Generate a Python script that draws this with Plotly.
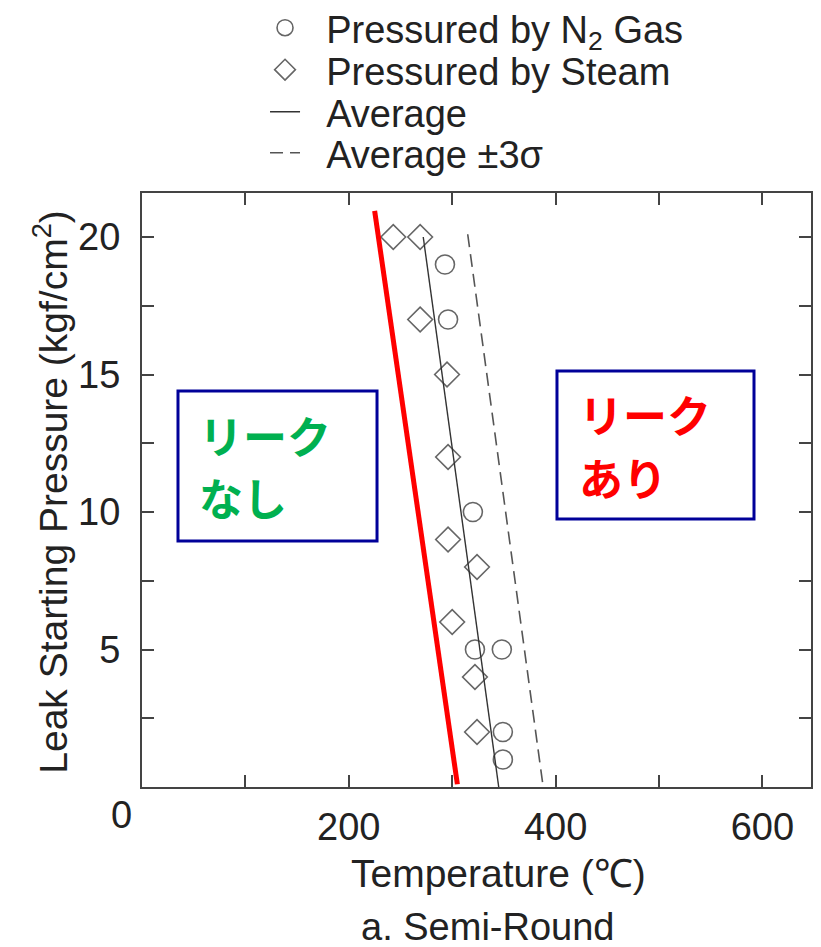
import plotly.graph_objects as go

# ---- data ----
n2_temp = [293, 296, 320, 322, 348, 349, 349]
n2_pres = [19, 17, 10, 5, 5, 2, 1]

steam_temp = [243, 269, 269, 295, 296, 296, 324, 300, 322, 324]
steam_pres = [20, 20, 17, 15, 12, 9, 8, 6, 4, 2]

avg_temp = [272, 345]
avg_pres = [20, 0]

sigma_temp = [315, 388]
sigma_pres = [20.1, 0]

limit_temp = [225, 305]
limit_pres = [20.95, 0.1]

x_tickvals = [0, 100, 200, 300, 400, 500, 600]
x_ticktext = ["", "", "200", "", "400", "", "600"]
y_tickvals = [0, 2.5, 5, 7.5, 10, 12.5, 15, 17.5, 20]
y_ticktext = ["", "", "5", "", "10", "", "15", "", "20"]

FONT = "Liberation Sans, Arial, sans-serif"
JP = "Noto Sans CJK JP"
TXT = "#222222"
GRAY = "#666666"
PAD = "\u00a0\u00a0"

fig = go.Figure()

fig.add_trace(go.Scatter(
    x=n2_temp, y=n2_pres, mode="markers", name=PAD + "Pressured by N<sub>2</sub> Gas",
    marker=dict(symbol="circle-open", size=19, color=GRAY, line=dict(width=1.6, color=GRAY)),
    legend="legend"))
fig.add_trace(go.Scatter(
    x=steam_temp, y=steam_pres, mode="markers", name=PAD + "Pressured by Steam",
    marker=dict(symbol="diamond-open", size=19, color=GRAY, line=dict(width=1.6, color=GRAY)),
    legend="legend2"))
fig.add_trace(go.Scatter(
    x=avg_temp, y=avg_pres, mode="lines", name=PAD + "Average",
    line=dict(color="#333333", width=1.4), legend="legend3"))
fig.add_trace(go.Scatter(
    x=sigma_temp, y=sigma_pres, mode="lines", name=PAD + "Average \u00b13\u03c3",
    line=dict(color="#555555", width=1.6, dash="13px,7px"), legend="legend4"))
fig.add_trace(go.Scatter(
    x=limit_temp, y=limit_pres, mode="lines", showlegend=False,
    line=dict(color="#ff0000", width=5)))

leg_common = dict(x=0.1839, xanchor="left", yanchor="middle", bgcolor="rgba(0,0,0,0)",
                  font=dict(family=FONT, size=38, color=TXT), borderwidth=0)
fig.update_layout(
    legend=dict(y=1.2778, **leg_common),
    legend2=dict(y=1.2071, **leg_common),
    legend3=dict(y=1.1364, **leg_common),
    legend4=dict(y=1.0673, **leg_common),
)

axis_common = dict(ticks="inside", ticklen=12, tickwidth=1.5, tickcolor="#444444",
                   showline=True, linecolor="#444444", linewidth=2, mirror="ticks",
                   showgrid=False, zeroline=False,
                   tickfont=dict(family=FONT, size=38, color=TXT))
fig.update_xaxes(range=[0, 647], tickvals=x_tickvals, ticktext=x_ticktext,
                 ticklabelstandoff=5, **axis_common)
fig.update_yaxes(range=[0, 21.6], tickvals=y_tickvals, ticktext=y_ticktext,
                 ticklabelstandoff=12, **axis_common)

fig.update_layout(
    width=821, height=947,
    margin=dict(l=142, r=10, t=193, b=160, autoexpand=False),
    plot_bgcolor="white", paper_bgcolor="white",
    showlegend=True,
)

shapes = [
    dict(type="rect", xref="paper", yref="paper", x0=0.0538, x1=0.3513, y0=0.4141, y1=0.6667,
         line=dict(color="#000099", width=3), fillcolor="white", layer="below"),
    dict(type="rect", xref="paper", yref="paper", x0=0.6203, x1=0.9148, y0=0.4512, y1=0.7003,
         line=dict(color="#000099", width=3), fillcolor="white", layer="below"),
]
fig.update_layout(shapes=shapes)

def ann(text, x, y, size, color, xanchor="left", family=FONT, angle=0):
    return dict(text=text, x=x, y=y, xref="paper", yref="paper", showarrow=False,
                xanchor=xanchor, yanchor="middle", textangle=angle,
                font=dict(family=family, size=size, color=color))

annotations = [
    ann("<b>リーク</b>", 0.0820, 0.5926, 44, "#00B050", family=JP),
    ann("<b>なし</b>", 0.0820, 0.4882, 44, "#00B050", family=JP),
    ann("<b>リーク</b>", 0.6500, 0.6279, 44, "#FF0000", family=JP),
    ann("<b>あり</b>", 0.6500, 0.5219, 44, "#FF0000", family=JP),
    ann("0", -0.0299, -0.0471, 38, TXT, xanchor="center"),
    ann("Temperature (\u2103)", 0.5336, -0.1448, 39, TXT, xanchor="center"),
    ann("a. Semi-Round", 0.5157, -0.2360, 38, TXT, xanchor="center"),
    ann("Leak Starting Pressure (kgf/cm<sup>2</sup>)", -0.138, 0.4966, 39, TXT,
        xanchor="center", angle=-90),
]
fig.update_layout(annotations=annotations)

fig.write_html("out.html", config={"displayModeBar": False},
               post_script="document.body.style.margin='0';document.body.style.padding='0';")
